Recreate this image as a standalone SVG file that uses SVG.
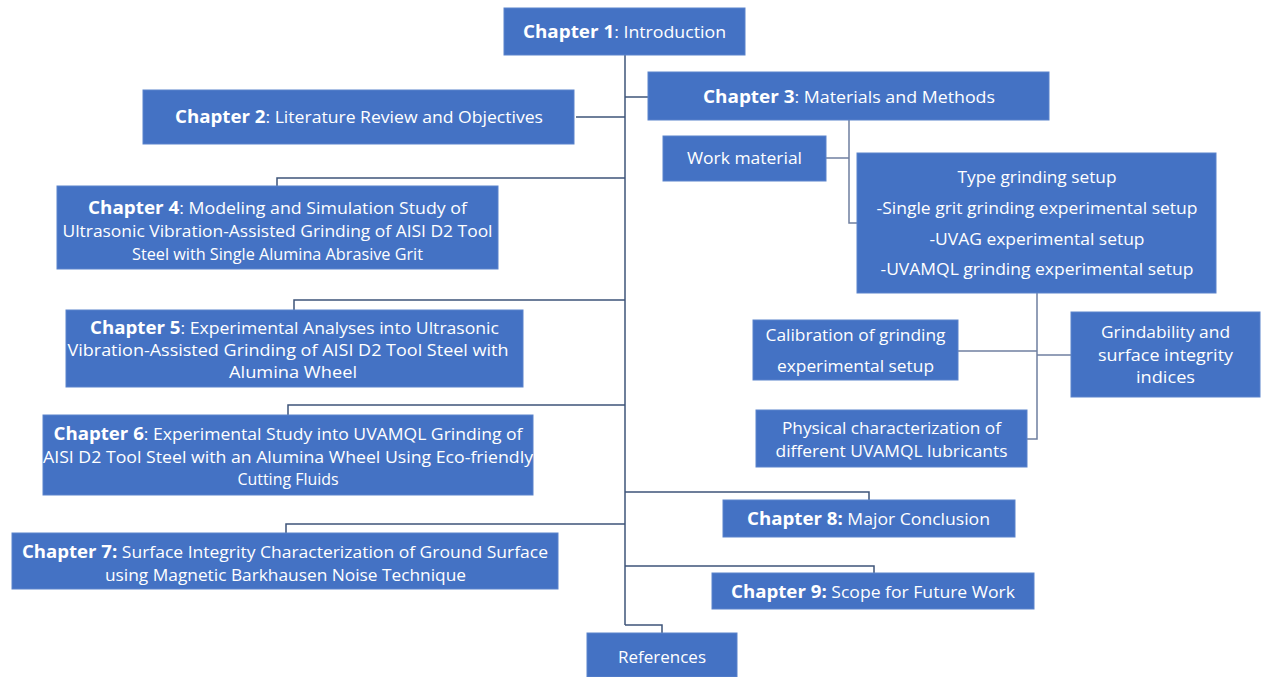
<svg xmlns="http://www.w3.org/2000/svg" width="1263" height="677" viewBox="0 0 1263 677">
<style>
.box{fill:#4472C4;stroke:#5A83CC;stroke-width:1}
.t{font-family:"Open Sans","Liberation Sans",sans-serif;font-size:16px;fill:#ffffff;text-anchor:middle}
.b{font-weight:bold;font-size:17px}
.c{fill:none;stroke:#3E5479;stroke-width:1.5}
.c2{fill:none;stroke:#6F7FA0;stroke-width:1.5}
</style>
<rect width="1263" height="677" fill="#ffffff"/>
<g id="connectors">
<path class="c" d="M625 54V625"/>
<path class="c" d="M576 117H625"/>
<path class="c" d="M625 97H648"/>
<path class="c" d="M625 178H277V186"/>
<path class="c" d="M625 300H294V310"/>
<path class="c" d="M625 405H288V415"/>
<path class="c" d="M625 524H286V533"/>
<path class="c" d="M625 492H869V500"/>
<path class="c" d="M625 566H874V573"/>
<path class="c" d="M625 625H662V633"/>
<path class="c2" d="M849 120V223H857"/>
<path class="c2" d="M826 158H849"/>
<path class="c2" d="M1037 293V439H1027"/>
<path class="c2" d="M958 351H1037"/>
<path class="c2" d="M1037 355H1071"/>
</g>
<g id="ch1"><rect class="box" x="504" y="8" width="241" height="47"/>
<text class="t" x="624.5" y="38" textLength="203" lengthAdjust="spacingAndGlyphs"><tspan class="b">Chapter 1</tspan>: Introduction</text></g>
<g id="ch2"><rect class="box" x="143" y="90" width="431" height="54"/>
<text class="t" x="359" y="123" textLength="368" lengthAdjust="spacingAndGlyphs"><tspan class="b">Chapter 2</tspan>: Literature Review and Objectives</text></g>
<g id="ch3"><rect class="box" x="648" y="72" width="401" height="48"/>
<text class="t" x="849" y="103" textLength="292" lengthAdjust="spacingAndGlyphs"><tspan class="b">Chapter 3</tspan>: Materials and Methods</text></g>
<g id="work"><rect class="box" x="663" y="136" width="163" height="45"/>
<text class="t" x="744.5" y="164" textLength="115" lengthAdjust="spacingAndGlyphs">Work material</text></g>
<g id="type"><rect class="box" x="857" y="153" width="359" height="140"/>
<text class="t" x="1037" y="183" textLength="159" lengthAdjust="spacingAndGlyphs">Type grinding setup</text>
<text class="t" x="1037" y="214" textLength="321" lengthAdjust="spacingAndGlyphs">-Single grit grinding experimental setup</text>
<text class="t" x="1037" y="245" textLength="215" lengthAdjust="spacingAndGlyphs">-UVAG experimental setup</text>
<text class="t" x="1037" y="275" textLength="313" lengthAdjust="spacingAndGlyphs">-UVAMQL grinding experimental setup</text></g>
<g id="calib"><rect class="box" x="753" y="320" width="205" height="60"/>
<text class="t" x="855.5" y="341" textLength="180" lengthAdjust="spacingAndGlyphs">Calibration of grinding</text>
<text class="t" x="855.5" y="372" textLength="157" lengthAdjust="spacingAndGlyphs">experimental setup</text></g>
<g id="grind"><rect class="box" x="1071" y="312" width="189" height="85"/>
<text class="t" x="1165.5" y="338" textLength="129" lengthAdjust="spacingAndGlyphs">Grindability and</text>
<text class="t" x="1165.5" y="361" textLength="135" lengthAdjust="spacingAndGlyphs">surface integrity</text>
<text class="t" x="1165.5" y="383" textLength="59" lengthAdjust="spacingAndGlyphs">indices</text></g>
<g id="phys"><rect class="box" x="756" y="410" width="271" height="57"/>
<text class="t" x="891.5" y="434" textLength="219" lengthAdjust="spacingAndGlyphs">Physical characterization of</text>
<text class="t" x="891.5" y="457" textLength="232" lengthAdjust="spacingAndGlyphs">different UVAMQL lubricants</text></g>
<g id="ch4"><rect class="box" x="57" y="186" width="441" height="83"/>
<text class="t" x="277.5" y="214" textLength="379" lengthAdjust="spacingAndGlyphs"><tspan class="b">Chapter 4</tspan>: Modeling and Simulation Study of</text>
<text class="t" x="277.5" y="237" textLength="430" lengthAdjust="spacingAndGlyphs">Ultrasonic Vibration-Assisted Grinding of AISI D2 Tool</text>
<text class="t" x="277.5" y="260" textLength="291" lengthAdjust="spacingAndGlyphs">Steel with Single Alumina Abrasive Grit</text></g>
<g id="ch5"><rect class="box" x="66" y="310" width="457" height="77"/>
<text class="t" x="294.5" y="334" textLength="409" lengthAdjust="spacingAndGlyphs"><tspan class="b">Chapter 5</tspan>: Experimental Analyses into Ultrasonic</text>
<text class="t" x="288" y="356" textLength="441" lengthAdjust="spacingAndGlyphs">Vibration-Assisted Grinding of AISI D2 Tool Steel with</text>
<text class="t" x="293" y="378" textLength="128" lengthAdjust="spacingAndGlyphs">Alumina Wheel</text></g>
<g id="ch6"><rect class="box" x="43" y="415" width="490" height="80"/>
<text class="t" x="288" y="440" textLength="469" lengthAdjust="spacingAndGlyphs"><tspan class="b">Chapter 6</tspan>: Experimental Study into UVAMQL Grinding of</text>
<text class="t" x="288" y="463" textLength="490" lengthAdjust="spacingAndGlyphs">AISI D2 Tool Steel with an Alumina Wheel Using Eco-friendly</text>
<text class="t" x="288" y="485" textLength="101" lengthAdjust="spacingAndGlyphs">Cutting Fluids</text></g>
<g id="ch7"><rect class="box" x="12" y="533" width="546" height="56"/>
<text class="t" x="285" y="558" textLength="526" lengthAdjust="spacingAndGlyphs"><tspan class="b">Chapter 7:</tspan> Surface Integrity Characterization of Ground Surface</text>
<text class="t" x="285.5" y="581" textLength="361" lengthAdjust="spacingAndGlyphs">using Magnetic Barkhausen Noise Technique</text></g>
<g id="ch8"><rect class="box" x="723" y="500" width="292" height="37"/>
<text class="t" x="868.5" y="525" textLength="243" lengthAdjust="spacingAndGlyphs"><tspan class="b">Chapter 8:</tspan> Major Conclusion</text></g>
<g id="ch9"><rect class="box" x="712" y="573" width="322" height="36"/>
<text class="t" x="873" y="598" textLength="284" lengthAdjust="spacingAndGlyphs"><tspan class="b">Chapter 9:</tspan> Scope for Future Work</text></g>
<g id="refs"><rect class="box" x="587" y="633" width="150" height="44"/>
<text class="t" x="662" y="663" textLength="88" lengthAdjust="spacingAndGlyphs">References</text></g>
</svg>
